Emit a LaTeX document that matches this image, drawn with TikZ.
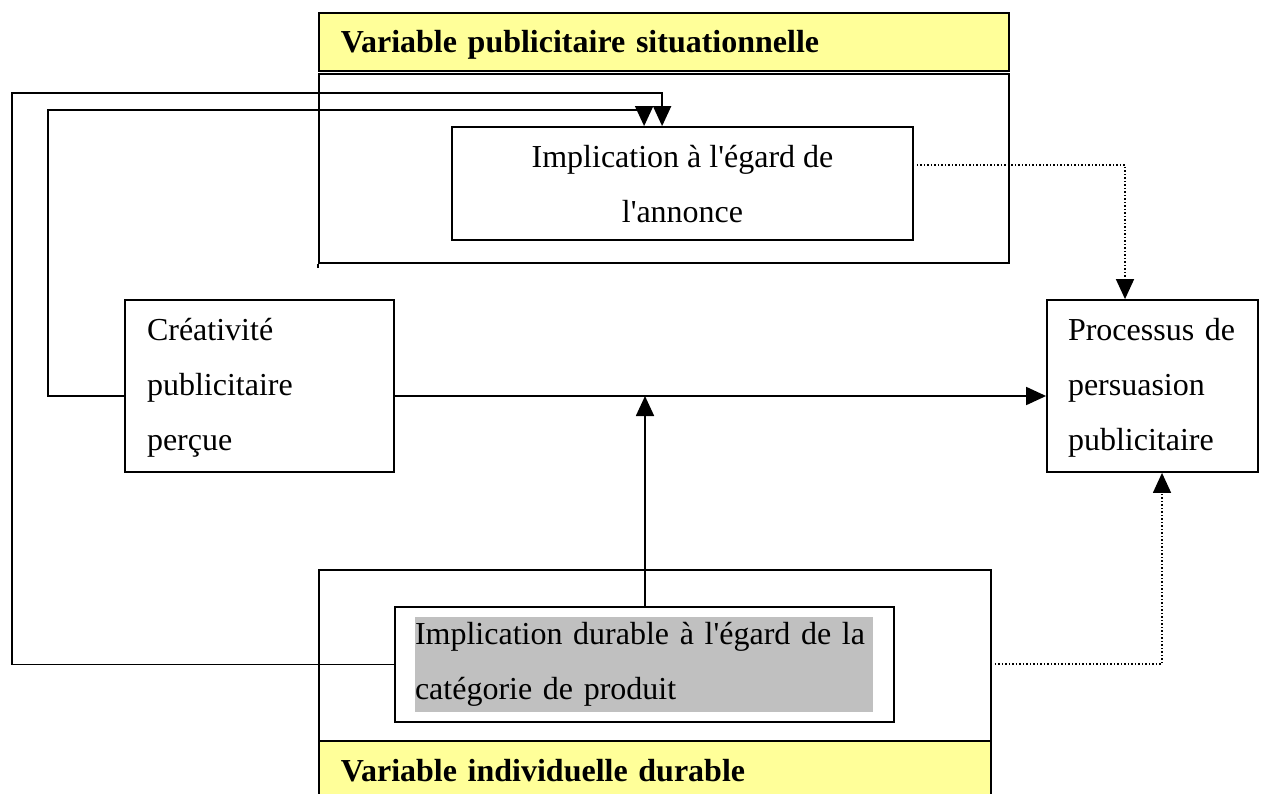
\documentclass[tikz,border=0pt]{standalone}
\usepackage{fontspec}
\setmainfont{Liberation Serif}
\usetikzlibrary{arrows.meta}
\definecolor{yel}{HTML}{FFFF99}
\definecolor{gry}{HTML}{C0C0C0}
\newcommand{\q}{\textquotesingle}
\newcommand{\dn}[2]{\raisebox{-#1}[\height][\depth]{#2}}
\begin{document}
\begin{tikzpicture}[x=1pt,y=-1pt, line width=1.8pt,
  box/.style={draw, rectangle, inner sep=0pt},
  txt/.style={font=\fontsize{32}{55}\selectfont},
  ttl/.style={font=\bfseries\fontsize{32}{38}\selectfont},
  arr/.style={-{Triangle[length=20pt,width=18pt]}},
  dotarr/.style={arr, line width=1.5pt, dash pattern=on 1.5pt off 2pt},
]
\useasboundingbox (0,0) rectangle (1261,793);

% top group
\node[box, fill=yel, minimum width=690pt, minimum height=58pt, anchor=north west,
      text width=646pt, inner xsep=22pt, align=left, ttl] (ttop) at (318,12) {\dn{3pt}{Variable publicitaire situationnelle}};
\node[box, minimum width=690pt, minimum height=189pt, anchor=north west] (ftop) at (318,73) {};
\draw (ftop.south west) -- ++(0,4);
\node[box, fill=white, minimum width=461pt, minimum height=113pt, align=center, txt] (ann) at (682.5,183.5) {\dn{1pt}{Implication à l\q égard de}\\\dn{1pt}{l\q annonce}};

% middle
\node[box, minimum width=269pt, minimum height=172pt, text width=225pt, inner xsep=22pt, align=left, txt] (cre) at (259.5,386) {\dn{2pt}{Créativité}\\\dn{2pt}{publicitaire}\\\dn{2pt}{perçue}};
\node[box, minimum width=211pt, minimum height=172pt, text width=169pt, inner xsep=21pt, align=left, txt] (proc) at (1152.5,386) {\makebox[169pt][s]{\dn{2pt}{Processus} \dn{2pt}{de}}\\\dn{2pt}{persuasion}\\\dn{2pt}{publicitaire}};

% bottom group
\node[box, minimum width=672pt, minimum height=171pt, anchor=north west] (fbot) at (318,569) {};
\node[box, fill=yel, minimum width=672pt, minimum height=60pt, anchor=north west,
      text width=628pt, inner xsep=22pt, align=left, ttl] (tbot) at (318,740) {Variable individuelle durable};
\node[box, fill=white, minimum width=499pt, minimum height=115pt, anchor=north west] (dur) at (394,606) {};
\node[fill=gry, inner sep=0pt, text width=458pt, minimum height=95pt, align=left, txt] (durtxt) at (644,664.5)
  {\makebox[458pt][s]{Implication durable à l\q égard de la}\\catégorie de produit};

% connectors
\coordinate (l1) at (12,93);
\coordinate (l2) at (48,110);
\coordinate (j) at (645,396);
\draw[arr] (dur.west) -| (l1) -| ([xshift=211pt]ann.north west);
\draw[arr] ([yshift=-10pt]cre.west) -| (l2) -| ([xshift=193pt]ann.north west);
\draw[arr] ([yshift=-10pt]cre.east) -- ([yshift=-10pt]proc.west);
\draw[arr] (j |- dur.north) -- (j);
\draw[dotarr] ([xshift=3pt,yshift=18.5pt]ann.east) -| ([xshift=-27.5pt]proc.north);
\draw[dotarr] ([xshift=3pt,yshift=-8.5pt]fbot.east) -| ([xshift=9.5pt]proc.south);
\end{tikzpicture}
\end{document}
